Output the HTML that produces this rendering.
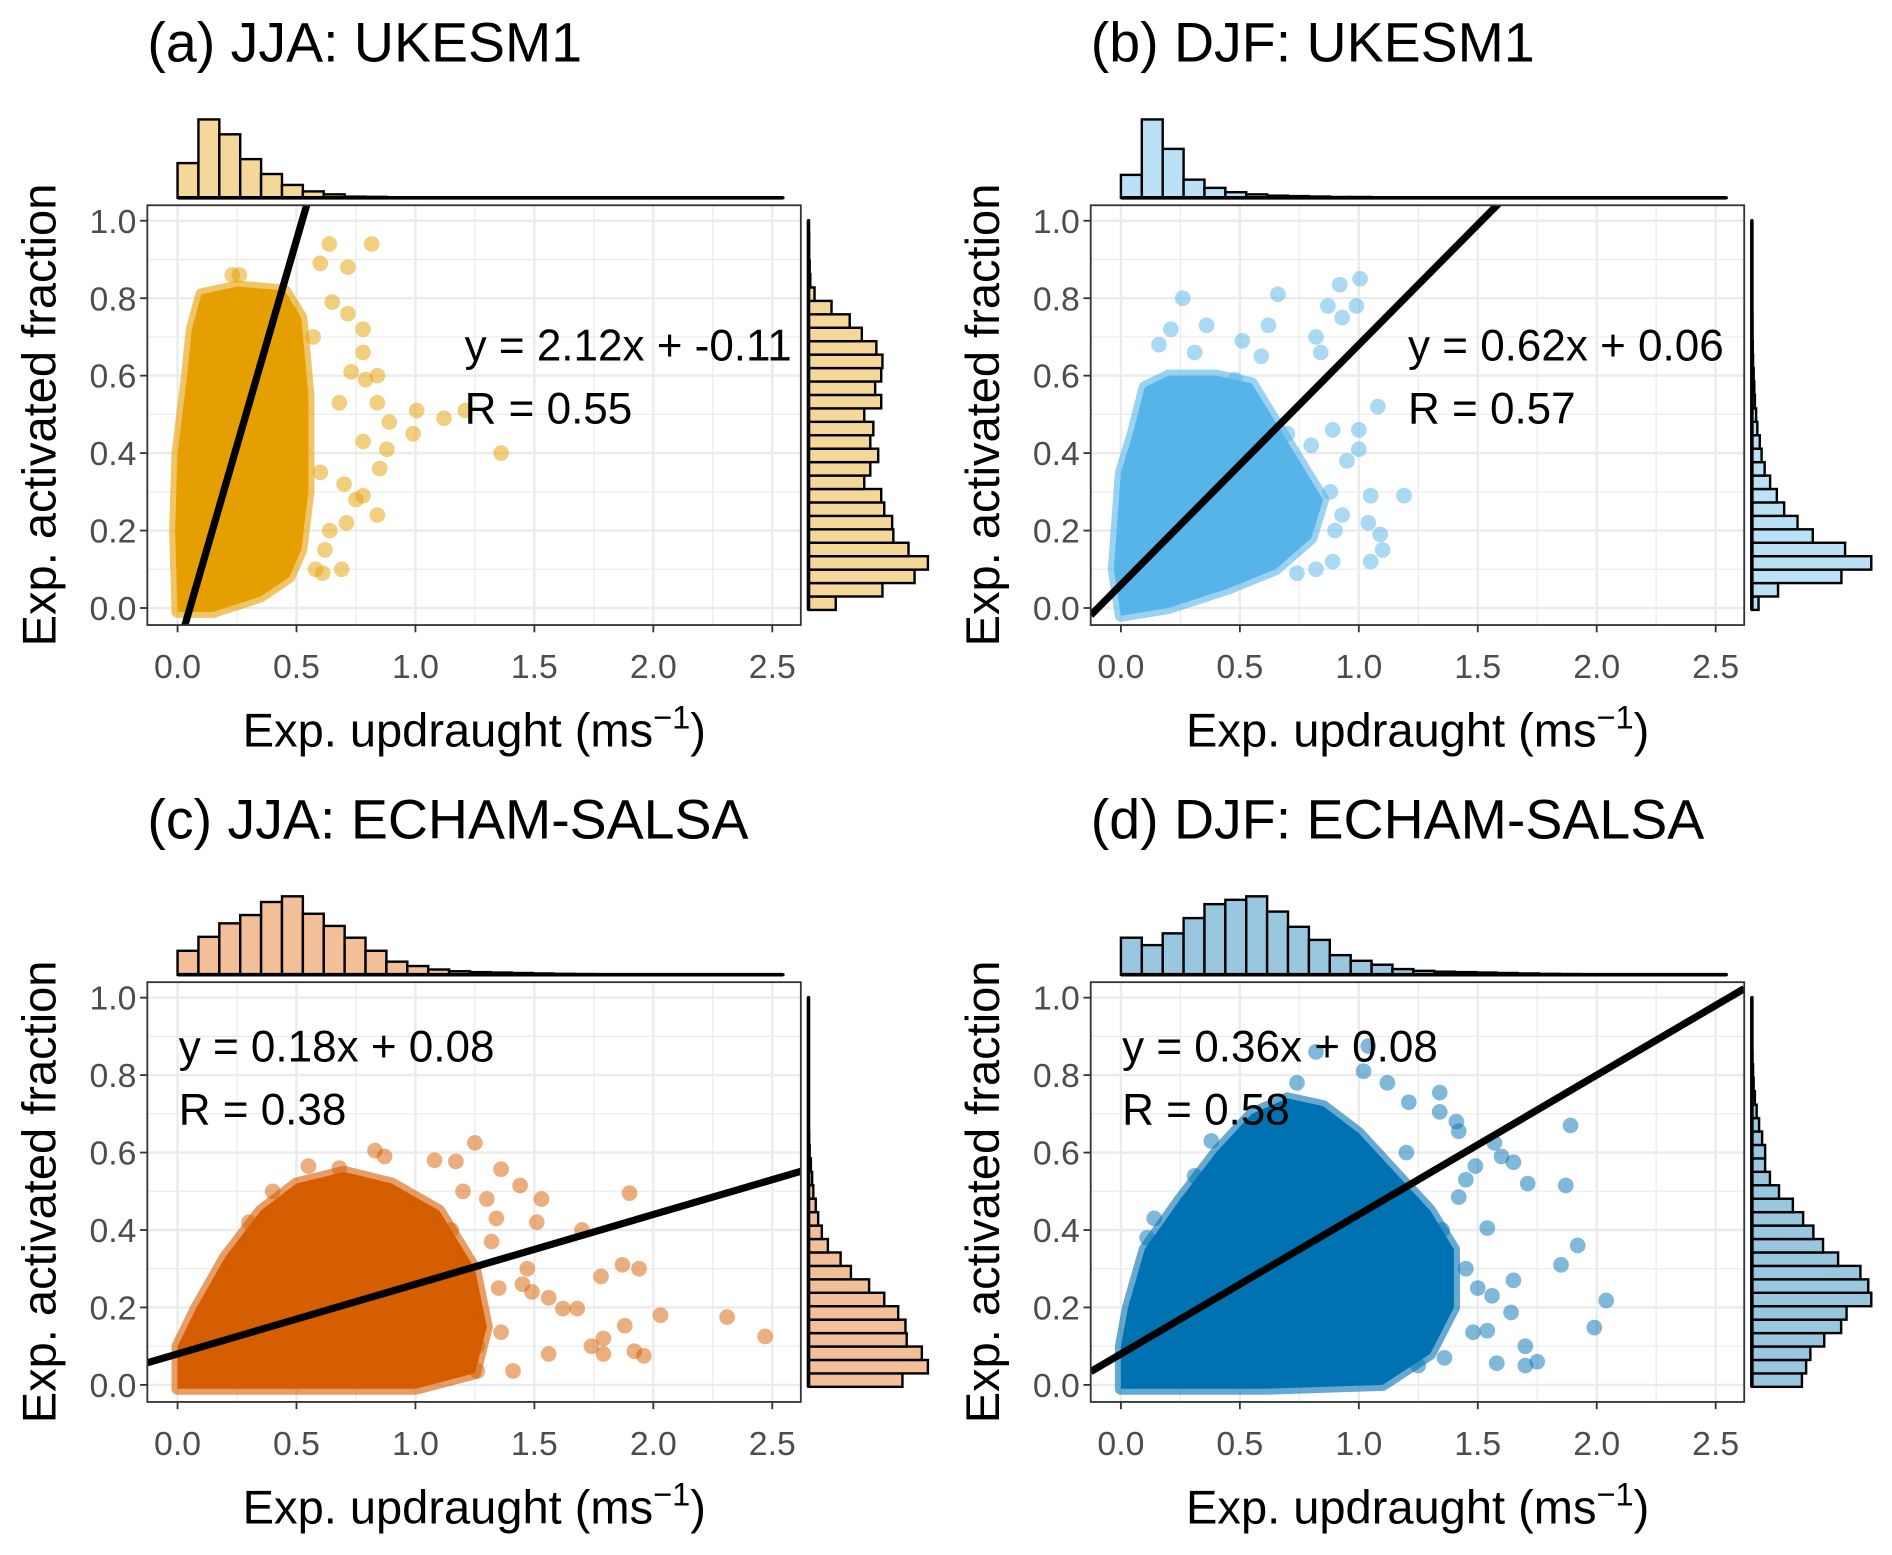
<!DOCTYPE html>
<html><head><meta charset="utf-8">
<style>
html,body{margin:0;padding:0;background:#fff;}
svg{display:block;font-family:"Liberation Sans",Arial,sans-serif;}
</style></head>
<body>
<svg id="fig" width="1892" height="1555" viewBox="0 0 1568 1289" xmlns="http://www.w3.org/2000/svg">
<rect width="1568" height="1289" fill="#fff"/>
</svg>
<script>
// ---------- DATA ----------
const panelTitles = ["(a) JJA: UKESM1","(b) DJF: UKESM1","(c) JJA: ECHAM-SALSA","(d) DJF: ECHAM-SALSA"];
const slopes = [2.12, 0.62, 0.18, 0.36];
const intercepts = [-0.11, 0.06, 0.08, 0.08];
const eqLabels = ["y = 2.12x + -0.11","y = 0.62x + 0.06","y = 0.18x + 0.08","y = 0.36x + 0.08"];
const rLabels = ["R = 0.55","R = 0.57","R = 0.38","R = 0.58"];
const xTicks = [0.0,0.5,1.0,1.5,2.0,2.5];
const xTickLabels = ["0.0","0.5","1.0","1.5","2.0","2.5"];
const yTicks = [0.0,0.2,0.4,0.6,0.8,1.0];
const yTickLabels = ["0.0","0.2","0.4","0.6","0.8","1.0"];

// top (x) histograms, relative counts
const topHistA = [35,79,64,39,24,13,6.5,3.5,1.2,1,0.6,0.4,0.3,0.2,0.2,0.1,0.1,0.1,0.1,0.1,0.1,0.1,0.1,0.1,0.1,0.1,0.1,0.1,0.1];
const topHistB = [53,181,113,42,23,13,8,5,4,3,2,2,1,1,1,0.5,0.5,0.5,0.5,0.3,0.3,0.3,0.3,0.3,0.3,0.3,0.3,0.3,0.3];
const topHistC = [55,87,118,137,167,180,140,112,85,55,30,20,12,8,6,5,4,3,2,1.5,1,1,1,0.5,0.5,0.5,0.5,0.5,0.5];
const topHistD = [85,68,95,130,162,172,180,145,110,80,45,32,23,13,9,7,6,5,4,3,2,1.5,1,1,0.5,0.5,0.5,0.5,0.5];
// right (y) histograms, bottom to top
const rightHistA = [45,122,175,197,165,140,138,125,120,92,102,115,102,107,92,120,110,120,122,112,88,68,38,10,3,2,1,1,0.5];
const rightHistB = [11,43,147,196,153,100,75,53,41,30,21,16,13,9,7,5,4,3,2,1.5,1,1,0.5,0.5,0.5,0.3,0.3,0.3,0.3];
const rightHistC = [155,197,187,162,160,148,125,100,70,53,32,22,16,12,8,6,4,2,1,0.5,0.3,0.3,0.3,0.3,0.3,0.3,0.3,0.3,0.3];
const rightHistD = [83,90,97,120,148,157,198,193,180,143,118,102,85,68,45,30,22,22,17,12,8,5,3,2,1,0.5,0.3,0.3,0.3];

// dense point clouds (outline in data units)
const cloudAx = [0,0.15,0.35,0.47,0.52,0.55,0.55,0.52,0.45,0.25,0.1,0.06,0.04,0,-0.01];
const cloudAy = [-0.01,-0.01,0.03,0.08,0.15,0.3,0.55,0.75,0.82,0.83,0.81,0.72,0.6,0.4,0.2];
const cloudBx = [0,0.2,0.45,0.65,0.8,0.85,0.75,0.65,0.55,0.4,0.2,0.1,0.05,0.0,-0.03];
const cloudBy = [-0.02,0.0,0.05,0.1,0.18,0.28,0.38,0.48,0.58,0.6,0.6,0.57,0.45,0.35,0.1];
const cloudCx = [0,0.5,1.0,1.25,1.3,1.25,1.1,0.9,0.7,0.5,0.35,0.2,0.08,0];
const cloudCy = [-0.01,-0.01,-0.01,0.03,0.15,0.3,0.45,0.52,0.55,0.52,0.45,0.33,0.2,0.1];
const cloudDx = [0,0.6,1.1,1.3,1.4,1.4,1.3,1.15,1.0,0.85,0.7,0.55,0.4,0.25,0.1,0.03,0];
const cloudDy = [-0.01,-0.01,0.0,0.08,0.2,0.35,0.45,0.55,0.65,0.72,0.74,0.7,0.6,0.48,0.35,0.2,0.1];

// scattered points
const ptsAx = [0.638,0.816,0.60,0.716,0.23,0.65,0.716,0.78,0.79,0.84,1.005,1.12,1.21,1.36,0.99,0.89,0.88,0.85,0.78,0.84,0.71,0.69,0.61,0.78,0.73,0.84,0.68,0.78,0.70,0.75,0.26,0.58,0.62,0.6,0.57,0.64];
const ptsAy = [0.94,0.94,0.89,0.88,0.86,0.79,0.76,0.72,0.59,0.60,0.51,0.49,0.51,0.40,0.45,0.48,0.41,0.36,0.29,0.24,0.22,0.10,0.09,0.66,0.61,0.53,0.53,0.43,0.32,0.28,0.86,0.1,0.15,0.35,0.7,0.2];
const ptsBx = [0.26,0.66,0.92,1.005,0.87,0.99,0.93,0.62,0.36,0.21,0.16,0.82,0.84,1.08,1.0,0.89,1.0,1.19,1.05,1.04,1.09,1.1,1.05,0.89,0.82,0.74,0.93,0.48,0.31,0.59,0.51,0.88,0.95,0.9,0.7,0.8];
const ptsBy = [0.80,0.81,0.835,0.85,0.78,0.78,0.75,0.73,0.73,0.72,0.68,0.70,0.66,0.52,0.46,0.46,0.41,0.29,0.29,0.22,0.19,0.15,0.12,0.12,0.10,0.09,0.24,0.59,0.66,0.65,0.69,0.3,0.38,0.2,0.45,0.42];
const ptsCx = [1.25,0.83,0.87,0.55,0.68,1.08,1.17,1.36,1.44,1.53,1.90,1.51,1.70,1.87,1.94,1.78,1.47,1.45,1.49,1.56,1.68,1.62,2.03,2.31,2.47,1.88,1.79,1.74,1.92,1.96,1.79,1.41,1.26,1.36,1.26,1.56,1.32,1.34,1.2,1.3,1.35,1.15,0.4,0.3];
const ptsCy = [0.625,0.605,0.59,0.565,0.56,0.58,0.577,0.557,0.515,0.48,0.495,0.42,0.40,0.31,0.30,0.28,0.30,0.26,0.24,0.225,0.197,0.197,0.18,0.175,0.125,0.153,0.12,0.10,0.087,0.075,0.08,0.036,0.036,0.136,0.10,0.08,0.37,0.43,0.5,0.48,0.25,0.4,0.5,0.42];
const ptsDx = [0.82,1.04,1.02,1.12,0.74,1.34,1.21,1.34,1.41,1.89,1.42,1.57,1.65,1.60,1.71,1.87,1.49,1.45,1.42,1.54,1.92,1.85,2.04,1.99,1.65,1.64,1.70,1.58,1.75,1.70,1.36,1.54,1.48,1.56,0.14,0.11,0.38,0.31,1.45,1.5,1.35,1.2,1.25];
const ptsDy = [0.86,0.875,0.81,0.78,0.78,0.755,0.73,0.705,0.68,0.67,0.655,0.625,0.575,0.59,0.52,0.515,0.565,0.53,0.485,0.405,0.36,0.31,0.218,0.148,0.27,0.187,0.10,0.056,0.06,0.05,0.07,0.14,0.136,0.23,0.43,0.38,0.63,0.54,0.3,0.25,0.4,0.6,0.05];

// ---------- STYLE ----------
const colors = ["#E69F00","#56B4E9","#D55E00","#0072B2"];
const fills = ["#F5D899","#BBE1F6","#F2BF99","#99C7E0"];
const offsets = [[0,0],[782,0],[0,644],[782,644]];
const topHists = [topHistA,topHistB,topHistC,topHistD];
const rightHists = [rightHistA,rightHistB,rightHistC,rightHistD];
const cloudsX = [cloudAx,cloudBx,cloudCx,cloudDx];
const cloudsY = [cloudAy,cloudBy,cloudCy,cloudDy];
const ptsX = [ptsAx,ptsBx,ptsCx,ptsDx];
const ptsY = [ptsAy,ptsBy,ptsCy,ptsDy];
const eqPos = [[385,0],[385,0],[148,1],[148,1]];

const NS = "http://www.w3.org/2000/svg";
const svg = document.getElementById("fig");
function mk(tag, attrs, parent){
  const e = document.createElementNS(NS, tag);
  for (const k in attrs) e.setAttribute(k, attrs[k]);
  (parent||svg).appendChild(e);
  return e;
}
const XBW = 0.0878, YB0 = -0.005, YBW = 0.0347;
const X0 = -0.127, X1 = 2.62, Y0 = -0.044, Y1 = 1.04;

for (let p = 0; p < 4; p++){
  const [ox, oy] = offsets[p];
  const sx = v => ox + 147 + v*197.2;
  const sy = v => oy + 504 - v*321;
  const g = mk("g", {});
  
  

  const t = mk("text", {x: ox+122, y: oy+51, "font-size": 46, fill: "#000"}, g);
  t.textContent = panelTitles[p];
  
  

  const L = sx(X0), R = sx(X1), T = sy(Y1), B = sy(Y0);
  const cid = "clip" + p;
  const defs = mk("defs", {}, g);
  const cp = mk("clipPath", {id: cid}, defs);
  mk("rect", {x: L, y: T, width: R-L, height: B-T}, cp);

  const grid = mk("g", {}, g);
  
  
  for (let i = 0; i < xTicks.length; i++){
    if (i < xTicks.length-1){ const m = (xTicks[i]+xTicks[i+1])/2;
      mk("line", {x1: sx(m), x2: sx(m), y1: T, y2: B, stroke: "#ebebeb", "stroke-width": 1}, grid); }
    mk("line", {x1: sx(xTicks[i]), x2: sx(xTicks[i]), y1: T, y2: B, stroke: "#ebebeb", "stroke-width": 2}, grid);
  }
  for (let i = 0; i < yTicks.length; i++){
    if (i < yTicks.length-1){ const m = (yTicks[i]+yTicks[i+1])/2;
      mk("line", {x1: L, x2: R, y1: sy(m), y2: sy(m), stroke: "#ebebeb", "stroke-width": 1}, grid); }
    mk("line", {x1: L, x2: R, y1: sy(yTicks[i]), y2: sy(yTicks[i]), stroke: "#ebebeb", "stroke-width": 2}, grid);
  }

  const plot = mk("g", {"clip-path": "url(#"+cid+")"}, g);
  let d = "";
  for (let i = 0; i < cloudsX[p].length; i++) d += (i? "L":"M") + sx(cloudsX[p][i]) + "," + sy(cloudsY[p][i]);
  const cl = mk("path", {d: d+"Z", fill: colors[p], stroke: colors[p], "stroke-width": 10, "stroke-linejoin": "round", "fill-opacity": 1, "stroke-opacity": 0.6}, plot);
  
  
  for (let i = 0; i < ptsX[p].length; i++){
    const c = mk("circle", {cx: sx(ptsX[p][i]), cy: sy(ptsY[p][i]), r: 6.5, fill: colors[p], "fill-opacity": 0.5}, plot);
    
    
  }
  const ln = mk("line", {x1: sx(X0), y1: sy(slopes[p]*X0 + intercepts[p]), x2: sx(X1), y2: sy(slopes[p]*X1 + intercepts[p]), stroke: "#000", "stroke-width": 6}, plot);
  
  

  const bd = mk("rect", {x: L, y: T, width: R-L, height: B-T, fill: "none", stroke: "#333", "stroke-width": 1.5}, g);
  
  

  const ex = ox + eqPos[p][0];
  const e1 = mk("text", {x: ex, y: eqPos[p][1] ? oy+236 : oy+299, "font-size": 36.5, fill: "#000"}, g);
  e1.textContent = eqLabels[p];
  
  
  const e2 = mk("text", {x: ex, y: eqPos[p][1] ? oy+288 : oy+351, "font-size": 36.5, fill: "#000"}, g);
  e2.textContent = rLabels[p];
  
  

  for (let i = 0; i < xTicks.length; i++){
    mk("line", {x1: sx(xTicks[i]), x2: sx(xTicks[i]), y1: B, y2: B+6, stroke: "#333", "stroke-width": 1.5}, g);
    const tl = mk("text", {x: sx(xTicks[i]), y: oy+562, "font-size": 28, fill: "#4d4d4d", "text-anchor": "middle"}, g);
    tl.textContent = xTickLabels[i];
    
    
  }
  for (let i = 0; i < yTicks.length; i++){
    mk("line", {x1: L-6, x2: L, y1: sy(yTicks[i]), y2: sy(yTicks[i]), stroke: "#333", "stroke-width": 1.5}, g);
    const tl = mk("text", {x: L-9, y: sy(yTicks[i])+10, "font-size": 28, fill: "#4d4d4d", "text-anchor": "end"}, g);
    tl.textContent = yTickLabels[i];
    
    
  }
  const xt = mk("text", {x: ox+393, y: oy+619, "font-size": 39, fill: "#000", "text-anchor": "middle"}, g);
  xt.innerHTML = 'Exp. updraught (ms<tspan font-size="27" dy="-15">−1</tspan><tspan dy="15">)</tspan>';
  
  
  const yt = mk("text", {x: 0, y: 0, "font-size": 39, fill: "#000", "text-anchor": "middle", transform: "translate("+(ox+46)+","+(oy+344)+") rotate(-90)"}, g);
  yt.textContent = "Exp. activated fraction";
  
  

  const th = topHists[p], tmax = Math.max(...th);
  const base = oy + 164;
  const hg = mk("g", {}, g);
  
  
  for (let i = 0; i < th.length; i++){
    const h = th[i]/tmax*65;
    const b = mk("rect", {x: sx(i*XBW), y: base-h, width: sx((i+1)*XBW)-sx(i*XBW), height: h, fill: fills[p], stroke: "#000", "stroke-width": 2}, hg);
    
    
  }
  mk("line", {x1: sx(0), x2: sx(th.length*XBW), y1: base, y2: base, stroke: "#000", "stroke-width": 3}, hg);

  const rh = rightHists[p], rmax = Math.max(...rh);
  const rb = ox + 670;
  const rg = mk("g", {}, g);
  
  
  for (let i = 0; i < rh.length; i++){
    const w = rh[i]/rmax*99;
    const y1 = sy(YB0 + (i+1)*YBW), y0 = sy(YB0 + i*YBW);
    const b = mk("rect", {x: rb, y: y1, width: w, height: y0-y1, fill: fills[p], stroke: "#000", "stroke-width": 2}, rg);
    
    
  }
  mk("line", {x1: rb, x2: rb, y1: sy(YB0), y2: sy(YB0 + rh.length*YBW), stroke: "#000", "stroke-width": 3}, rg);
}
</script>
</body></html>
